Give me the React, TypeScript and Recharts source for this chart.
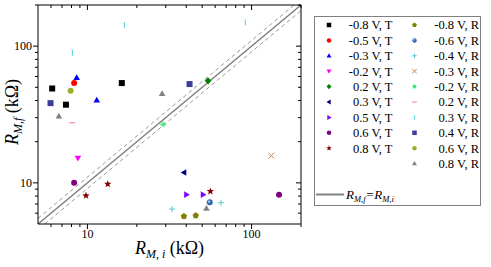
import { ScatterChart, Scatter, XAxis, YAxis, ReferenceLine, Legend } from 'recharts';

type Pt = [number, number];

// (R_M,i , R_M,f) in kΩ
const tM08: Pt[] = [[6.1, 49], [7.4, 37.3], [16.2, 53.7]];
const tM05: Pt[] = [[8.3, 53.7]];
const tM03: Pt[] = [[8.6, 58.8], [11.4, 40.2]];
const tM02: Pt[] = [[8.75, 15.2]];
const tP02: Pt[] = [[54.3, 55.8]];
const tP03: Pt[] = [[38.8, 11.9]];
const tP05: Pt[] = [[40.1, 8.2], [50.6, 8.2]];
const tP06: Pt[] = [[8.3, 10], [147, 8.2]];
const tP08: Pt[] = [[9.8, 8.06], [13.3, 9.8], [56.1, 8.67]];

const rM08: Pt[] = [[38.7, 5.7], [45.7, 5.77]];
const rM06: Pt[] = [[55.6, 7.2]];
const rM04: Pt[] = [[32.8, 6.43], [65.1, 7.16]];
const rM03: Pt[] = [[132, 15.8]];
const rM02: Pt[] = [[28.9, 26.8]];
const rP02: Pt[] = [[8.1, 27.5]];
const rP03: Pt[] = [[8.1, 89.4], [16.8, 143], [91.6, 149]];
const rP04: Pt[] = [[5.96, 38.3], [41.9, 52.8]];
const rP06: Pt[] = [[7.9, 47.1]];
const rP08: Pt[] = [[6.7, 30.7], [28.5, 44.8], [53.1, 6.5]];

const logTicks = [6, 7, 8, 9, 10, 20, 30, 40, 50, 60, 70, 80, 90, 100, 200];
const majorTicks = [10, 100];
const domain: [number, number] = [5, 200];
const band = 1.1;

const FONT = '"Liberation Serif", "DejaVu Serif", serif';

type Kind =
  | 'square' | 'circle' | 'ball' | 'up' | 'down' | 'left' | 'right' | 'diamond'
  | 'star' | 'pentagon' | 'plus' | 'cross' | 'aster' | 'hbar' | 'vbar';

const tSeries: { name: string; pts: Pt[]; kind: Kind; color: string }[] = [
  { name: '-0.8 V, T', pts: tM08, kind: 'square', color: '#000000' },
  { name: '-0.5 V, T', pts: tM05, kind: 'circle', color: '#ff0000' },
  { name: '-0.3 V, T', pts: tM03, kind: 'up', color: '#0000ff' },
  { name: '-0.2 V, T', pts: tM02, kind: 'down', color: '#ff00ff' },
  { name: '0.2 V, T', pts: tP02, kind: 'diamond', color: '#008000' },
  { name: '0.3 V, T', pts: tP03, kind: 'left', color: '#000080' },
  { name: '0.5 V, T', pts: tP05, kind: 'right', color: '#8000ff' },
  { name: '0.6 V, T', pts: tP06, kind: 'circle', color: '#800080' },
  { name: '0.8 V, T', pts: tP08, kind: 'star', color: '#800000' },
];

const rSeries: { name: string; pts: Pt[]; kind: Kind; color: string }[] = [
  { name: '-0.8 V, R', pts: rM08, kind: 'pentagon', color: '#808000' },
  { name: '-0.6 V, R', pts: rM06, kind: 'ball', color: '#2f65b0' },
  { name: '-0.4 V, R', pts: rM04, kind: 'plus', color: '#5cc8d0' },
  { name: '-0.3 V, R', pts: rM03, kind: 'cross', color: '#c8864a' },
  { name: '-0.2 V, R', pts: rM02, kind: 'aster', color: '#3ee07a' },
  { name: '0.2 V, R', pts: rP02, kind: 'hbar', color: '#ff80c0' },
  { name: '0.3 V, R', pts: rP03, kind: 'vbar', color: '#66d8e0' },
  { name: '0.4 V, R', pts: rP04, kind: 'square', color: '#3d3d99' },
  { name: '0.6 V, R', pts: rP06, kind: 'circle', color: '#99b02a' },
  { name: '0.8 V, R', pts: rP08, kind: 'up', color: '#808080' },
];

function poly(cx: number, cy: number, n: number, r: number, inner?: number) {
  const pts: string[] = [];
  const steps = inner ? n * 2 : n;
  for (let i = 0; i < steps; i++) {
    const rr = inner && i % 2 === 1 ? inner : r;
    const a = -Math.PI / 2 + (i * 2 * Math.PI) / steps;
    pts.push(`${cx + rr * Math.cos(a)},${cy + rr * Math.sin(a)}`);
  }
  return pts.join(' ');
}

function Marker({ kind, x, y, s, color }: { kind: Kind; x: number; y: number; s: number; color: string }) {
  const h = s / 2;
  switch (kind) {
    case 'square':
      return <rect x={x - h} y={y - h} width={s} height={s} fill={color} />;
    case 'circle':
      return <circle cx={x} cy={y} r={h} fill={color} />;
    case 'ball':
      return (
        <g>
          <circle cx={x} cy={y} r={h} fill={color} />
          <circle cx={x - h * 0.25} cy={y - h * 0.25} r={h * 0.4} fill="#a8c8f0" />
        </g>
      );
    case 'up':
      return <polygon points={`${x},${y - h * 1.15} ${x + h * 1.1},${y + h * 0.75} ${x - h * 1.1},${y + h * 0.75}`} fill={color} />;
    case 'down':
      return <polygon points={`${x},${y + h * 1.15} ${x + h * 1.1},${y - h * 0.75} ${x - h * 1.1},${y - h * 0.75}`} fill={color} />;
    case 'left':
      return <polygon points={`${x - h * 1.15},${y} ${x + h * 0.75},${y - h * 1.1} ${x + h * 0.75},${y + h * 1.1}`} fill={color} />;
    case 'right':
      return <polygon points={`${x + h * 1.15},${y} ${x - h * 0.75},${y - h * 1.1} ${x - h * 0.75},${y + h * 1.1}`} fill={color} />;
    case 'diamond':
      return <polygon points={`${x},${y - h * 1.2} ${x + h * 1.1},${y} ${x},${y + h * 1.2} ${x - h * 1.1},${y}`} fill={color} />;
    case 'star':
      return <polygon points={poly(x, y, 5, h * 1.3, h * 0.55)} fill={color} />;
    case 'pentagon':
      return <polygon points={poly(x, y, 5, h * 1.1)} fill={color} />;
    case 'plus':
      return <path d={`M${x - h},${y}H${x + h}M${x},${y - h}V${y + h}`} stroke={color} strokeWidth={1} />;
    case 'cross':
      return <path d={`M${x - h},${y - h}L${x + h},${y + h}M${x - h},${y + h}L${x + h},${y - h}`} stroke={color} strokeWidth={1} />;
    case 'aster':
      return (
        <path
          d={`M${x - h},${y}H${x + h}M${x},${y - h}V${y + h}M${x - h * 0.7},${y - h * 0.7}L${x + h * 0.7},${y + h * 0.7}M${x - h * 0.7},${y + h * 0.7}L${x + h * 0.7},${y - h * 0.7}`}
          stroke={color}
          strokeWidth={1}
        />
      );
    case 'hbar':
      return <path d={`M${x - h},${y}H${x + h}`} stroke={color} strokeWidth={1.2} />;
    case 'vbar':
      return <path d={`M${x},${y - h}V${y + h}`} stroke={color} strokeWidth={1.2} />;
  }
  return null;
}

const BottomTick = (p: any) => {
  const v = p.payload.value;
  const major = majorTicks.includes(v);
  return (
    <g>
      <line x1={p.x} x2={p.x} y1={p.y} y2={p.y + (major ? 5 : 3)} stroke="#000" />
      {major && (
        <text x={p.x} y={p.y + 13.5} textAnchor="middle" fontFamily={FONT} fontSize={12} fill="#000">
          {v}
        </text>
      )}
    </g>
  );
};

const TopTick = (p: any) => {
  const major = majorTicks.includes(p.payload.value);
  return <line x1={p.x} x2={p.x} y1={p.y} y2={p.y + (major ? 5 : 3)} stroke="#000" />;
};

const LeftTick = (p: any) => {
  const v = p.payload.value;
  const major = majorTicks.includes(v);
  return (
    <g>
      <line x1={p.x - (major ? 5 : 3)} x2={p.x} y1={p.y} y2={p.y} stroke="#000" />
      {major && (
        <text x={p.x - 6} y={p.y + 4} textAnchor="end" fontFamily={FONT} fontSize={12} fill="#000">
          {v}
        </text>
      )}
    </g>
  );
};

const RightTick = (p: any) => {
  const major = majorTicks.includes(p.payload.value);
  return <line x1={p.x - (major ? 5 : 3)} x2={p.x} y1={p.y} y2={p.y} stroke="#000" />;
};

const XLabel = (p: any) => {
  const vb = p.viewBox;
  return (
    <text x={vb.x + vb.width / 2} y={vb.y + 30} textAnchor="middle" fontFamily={FONT} fontSize={18} fill="#000">
      <tspan fontStyle="italic">R</tspan>
      <tspan fontStyle="italic" fontSize={12} dy={4}>M, i</tspan>
      <tspan dy={-4}> (kΩ)</tspan>
    </text>
  );
};

const YLabel = () => {
  const x = 18;
  const y = 112;
  return (
    <text x={x} y={y} textAnchor="middle" fontFamily={FONT} fontSize={18} fill="#000" transform={`rotate(-90, ${x}, ${y})`}>
      <tspan fontStyle="italic">R</tspan>
      <tspan fontStyle="italic" fontSize={12} dy={4}>M,f</tspan>
      <tspan dy={-4}> (kΩ)</tspan>
    </text>
  );
};

const LegendBox = () => {
  const rowY = (i: number) => 9 + i * 15.4;
  return (
    <svg width={168} height={191} style={{ display: 'block' }}>
      <rect x={0.5} y={0.5} width={166} height={189} fill="#fff" stroke="#808080" />
      {tSeries.map((s, i) => (
        <g key={s.name}>
          <Marker kind={s.kind} x={15} y={rowY(i)} s={4.5} color={s.color} />
          <text x={78.5} y={rowY(i) + 4.3} textAnchor="end" fontFamily={FONT} fontSize={12.5} fill="#000">
            {s.name}
          </text>
        </g>
      ))}
      {rSeries.map((s, i) => (
        <g key={s.name}>
          <Marker kind={s.kind} x={100.5} y={rowY(i)} s={4.5} color={s.color} />
          <text x={165} y={rowY(i) + 4.3} textAnchor="end" fontFamily={FONT} fontSize={12.5} fill="#000">
            {s.name}
          </text>
        </g>
      ))}
      <line x1={2} x2={30} y1={178.5} y2={178.5} stroke="#808080" strokeWidth={2} />
      <text x={32} y={183} fontFamily={FONT} fontSize={13} fontStyle="italic" fill="#000">
        <tspan>R</tspan>
        <tspan fontSize={8.5} dy={3}>M,f</tspan>
        <tspan dy={-3}>=R</tspan>
        <tspan fontSize={8.5} dy={3}>M,i</tspan>
      </text>
    </svg>
  );
};

const toData = (pts: Pt[]) => pts.map(([x, y]) => ({ x, y }));

export default function App() {
  const all = [...tSeries, ...rSeries];
  return (
    <div style={{ position: 'absolute', left: 0, top: 0 }}>
      <ScatterChart width={491} height={267} margin={{ top: 0, right: 180, bottom: 0, left: 0 }}>
        <XAxis
          dataKey="x"
          type="number"
          scale="log"
          domain={domain}
          allowDataOverflow
          ticks={logTicks}
          interval={0}
          tickSize={0}
          tickMargin={0}
          tick={BottomTick}
          height={43}
          axisLine={{ stroke: '#000' }}
          label={<XLabel />}
        />
        <XAxis
          xAxisId="top"
          orientation="top"
          dataKey="x"
          type="number"
          scale="log"
          domain={domain}
          allowDataOverflow
          ticks={logTicks}
          interval={0}
          tickSize={0}
          tickMargin={0}
          tick={TopTick}
          height={5}
          axisLine={{ stroke: '#000' }}
        />
        <YAxis
          dataKey="y"
          type="number"
          scale="log"
          domain={domain}
          allowDataOverflow
          ticks={logTicks}
          interval={0}
          tickSize={0}
          tickMargin={0}
          tick={LeftTick}
          width={38}
          axisLine={{ stroke: '#000' }}
          label={<YLabel />}
        />
        <YAxis
          yAxisId="right"
          orientation="right"
          dataKey="y"
          type="number"
          scale="log"
          domain={domain}
          allowDataOverflow
          ticks={logTicks}
          interval={0}
          tickSize={0}
          tickMargin={0}
          tick={RightTick}
          width={10}
          axisLine={{ stroke: '#000' }}
        />
        <ReferenceLine
          segment={[{ x: domain[0], y: domain[0] * band }, { x: domain[1] / band, y: domain[1] }]}
          stroke="#9a9a9a"
          strokeDasharray="4 3"
        />
        <ReferenceLine
          segment={[{ x: domain[0] * band, y: domain[0] }, { x: domain[1], y: domain[1] / band }]}
          stroke="#9a9a9a"
          strokeDasharray="4 3"
        />
        <ReferenceLine
          segment={[{ x: domain[0], y: domain[0] }, { x: domain[1], y: domain[1] }]}
          stroke="#808080"
          strokeWidth={1.5}
        />
        {all.map((s) => (
          <Scatter
            key={s.name}
            name={s.name}
            data={toData(s.pts)}
            isAnimationActive={false}
            shape={(p: any) => <Marker kind={s.kind} x={p.cx} y={p.cy} s={6} color={s.color} />}
          />
        ))}
        <Legend
          layout="vertical"
          align="center"
          verticalAlign="middle"
          wrapperStyle={{ left: 314, top: 16, width: 168, height: 191 }}
          content={() => <LegendBox />}
        />
      </ScatterChart>
    </div>
  );
}
